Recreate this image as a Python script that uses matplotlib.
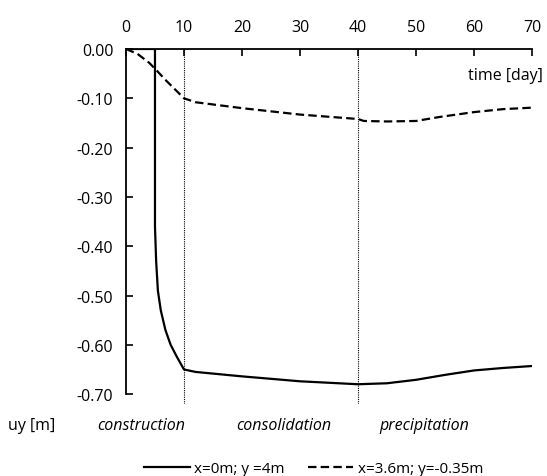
import matplotlib
matplotlib.use("Agg")
import matplotlib.pyplot as plt

# time [day] and vertical displacement uy [m]
t_top = [0, 5, 5, 5.2, 5.5, 6, 6.8, 7.7, 8.8, 10, 12, 20, 30, 40, 45, 50, 55, 60, 65, 70]
uy_top = [0, 0, -0.36, -0.43, -0.49, -0.53, -0.57, -0.60, -0.625, -0.65, -0.655, -0.664,
          -0.674, -0.680, -0.678, -0.671, -0.661, -0.652, -0.647, -0.643]

t_side = [0, 2, 4, 5, 7, 10, 12, 20, 30, 40, 41, 45, 50, 54, 57, 60, 65, 70]
uy_side = [0, -0.01, -0.028, -0.04, -0.065, -0.10, -0.108, -0.12, -0.133, -0.142,
           -0.146, -0.147, -0.146, -0.138, -0.133, -0.128, -0.122, -0.119]

phase_bounds = [10, 40]
phase_names = ["construction", "consolidation", "precipitation"]
phase_x = [2.6, 27.2, 51.5]

plt.rcParams['font.family'] = ['Open Sans', 'DejaVu Sans']

fig = plt.figure(figsize=(5.47, 4.77), dpi=100)
ax = fig.add_axes([0.2303, 0.151, 0.7423, 0.7442])

ax.plot(t_top, uy_top, color='black', lw=1.6, label='x=0m; y =4m')
ax.plot(t_side, uy_side, color='black', lw=1.6, ls=(0, (3.8, 1.9)), label='x=3.6m; y=-0.35m')

for b in phase_bounds:
    ax.axvline(b, color='black', lw=0.8, ls=(0, (1, 1)))

ax.set_xlim(0, 70)
ax.set_ylim(-0.72, 0)
ax.set_xticks(range(0, 71, 10))
ax.set_yticks([0, -0.1, -0.2, -0.3, -0.4, -0.5, -0.6, -0.7])
ax.set_yticklabels([f"{v:.2f}" for v in [0, -0.1, -0.2, -0.3, -0.4, -0.5, -0.6, -0.7]])

ax.xaxis.tick_top()
ax.spines['bottom'].set_visible(False)
ax.spines['right'].set_visible(False)
ax.spines['left'].set_bounds(-0.7, 0)
for s in ['top', 'left']:
    ax.spines[s].set_linewidth(1.3)
ax.tick_params(axis='both', direction='in', length=5, width=1.2, labelsize=11.5, colors='black')
ax.tick_params(axis='x', pad=10)
ax.tick_params(axis='y', pad=9)

ax.text(71.8, -0.052, "time [day]", ha='right', va='center', fontsize=11.5)
ax.text(-16.3, -0.762, "uy [m]", ha='center', va='center', fontsize=11.5, clip_on=False)
for x, name in zip(phase_x, phase_names):
    ax.text(x, -0.762, name, ha='center', va='center', fontsize=11.5, style='italic', clip_on=False)

ax.legend(loc='center', bbox_to_anchor=(0.462, -0.183), ncol=2, frameon=False,
          fontsize=11, handlelength=3.0, columnspacing=1.5, handletextpad=0.3)

fig.savefig("out.png", dpi=100)
